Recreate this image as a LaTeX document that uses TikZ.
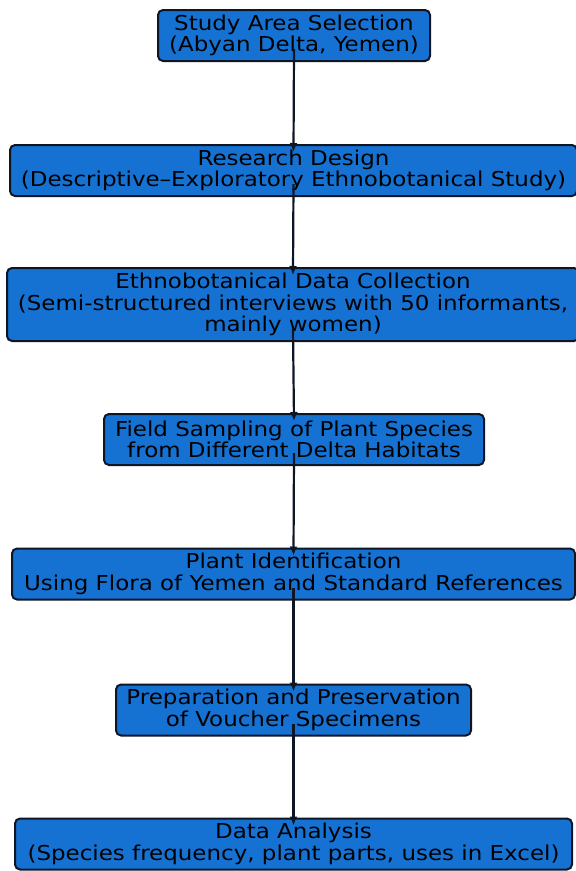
\documentclass[tikz,border=0pt]{standalone}
\usepackage{fontspec}
\setmainfont{DejaVu Sans}[FakeStretch=1.12]
\usetikzlibrary{arrows.meta, positioning}

\definecolor{boxblue}{RGB}{21,114,211}
\definecolor{boxline}{RGB}{14,22,38}

\begin{document}
\begin{tikzpicture}[
  x=1pt, y=-1pt,
  stage/.style={draw=boxline, fill=boxblue, line width=2pt, rounded corners=5pt,
    align=center, inner sep=0pt, minimum height=51pt, text=black,
    font=\fontsize{20.5}{21.5}\selectfont},
  flow/.style={-{Latex[length=9pt,width=8pt]}, line width=2.2pt, draw=boxline}]

  \useasboundingbox (0,0) rectangle (576,871);

  % stages, top to bottom
  \node[stage, minimum width=272pt] (area) at (294,35.5)
    {Study Area Selection\\(Abyan Delta, Yemen)};
  \node[stage, minimum width=567pt] (design) at (293.5,170.5)
    {Research Design\\(Descriptive–Exploratory Ethnobotanical Study)};
  \node[stage, minimum width=572pt, minimum height=73pt] (collect) at (293,304.5)
    {Ethnobotanical Data Collection\\(Semi-structured interviews with 50 informants,\\mainly women)};
  \node[stage, minimum width=380pt] (sampling) at (294,439.5)
    {Field Sampling of Plant Species\\from Different Delta Habitats};
  \node[stage, minimum width=563pt] (ident) at (293.5,574)
    {Plant Identification\\Using Flora of Yemen and Standard References};
  \node[stage, minimum width=355pt] (voucher) at (293.5,710)
    {Preparation and Preservation\\of Voucher Specimens};
  \node[stage, minimum width=557pt] (analysis) at (293.5,844)
    {Data Analysis\\(Species frequency, plant parts, uses in Excel)};

  % connectors
  \draw[flow] ([yshift=13pt]area.south) -- ([yshift=-8pt]design.north);
  \draw[flow] ([yshift=13pt]design.south) -- ([yshift=-8pt]collect.north);
  \draw[flow] ([yshift=13pt]collect.south) -- ([yshift=-8pt]sampling.north);
  \draw[flow] ([yshift=13pt]sampling.south) -- ([yshift=-8pt]ident.north);
  \draw[flow] ([yshift=13pt]ident.south) -- ([yshift=-8pt]voucher.north);
  \draw[flow] ([yshift=13pt]voucher.south) -- ([yshift=-8pt]analysis.north);
\end{tikzpicture}
\end{document}
